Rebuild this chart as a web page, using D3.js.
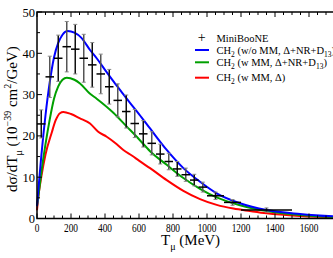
<!DOCTYPE html>
<html>
<head>
<meta charset="utf-8">
<script src="https://cdn.jsdelivr.net/npm/d3@7"></script>
<style>
  body { margin: 0; background: #fff; }
  svg { font-family: "Liberation Serif", "DejaVu Serif", serif; }
</style>
</head>
<body>
<div id="vis-container"></div>
<script>

const width = 333,
    height = 258;

// MiniBooNE data: bin centre, bin half width, value, error
var dataT   = [25, 75, 125, 175, 225, 275, 325, 375, 425, 475, 525, 575, 625, 675, 725, 775, 825, 875, 925, 975, 1050, 1150, 1350];
var dataHW  = [25, 25, 25, 25, 25, 25, 25, 25, 25, 25, 25, 25, 25, 25, 25, 25, 25, 25, 25, 25, 50, 50, 150];
var dataVal = [22.9, 34.3, 38.8, 41.6, 41.0, 38.8, 37.2, 35.0, 31.9, 28.6, 25.9, 23.0, 20.5, 18.2, 15.6, 13.8, 12.0, 10.6, 9.3, 7.6, 5.5, 3.9, 2.06];
var dataErr = [3.4, 5.0, 5.6, 6.1, 6.0, 5.8, 5.4, 4.8, 4.2, 4.0, 4.0, 3.4, 3.2, 2.8, 2.4, 2.0, 1.8, 1.6, 1.4, 1.2, 0.9, 0.7, 0.5];

// model curves
var blueT = [0, 10, 25, 50, 75, 100, 125, 150, 180, 220, 260, 312, 351, 400, 450, 500, 547, 600, 665, 763, 861, 959, 1057, 1194, 1351, 1547, 1750, 1800];
var blueV = [3, 8, 15, 25, 33, 39, 42.5, 44.5, 45.4, 45, 43.8, 40.8, 38.8, 36, 33.2, 30.5, 28, 25.3, 21.8, 16.6, 12.2, 8.9, 6.1, 3.7, 2.06, 1.1, 0.5, 0.4];

var greenT = [0, 10, 25, 50, 75, 100, 125, 150, 175, 220, 253, 312, 351, 449, 527, 600, 665, 763, 861, 959, 1057, 1194, 1351, 1547, 1750, 1800];
var greenV = [3, 6, 11, 18, 24, 29, 32, 33.6, 34.1, 33.6, 32.7, 30.2, 29.0, 25.6, 22.3, 19.2, 16.3, 13.0, 9.8, 7.2, 5.1, 3.2, 1.8, 0.85, 0.35, 0.3];

var redT = [0, 8, 25, 50, 86, 110, 135, 155, 200, 250, 312, 360, 410, 460, 508, 560, 600, 665, 763, 861, 959, 1057, 1155, 1253, 1351, 1550, 1750, 1800];
var redV = [2, 5.3, 10, 15.5, 20.7, 23.8, 25.5, 25.8, 25.3, 24.3, 23, 21, 19.8, 18.3, 16.6, 15.2, 14, 12.2, 9.3, 6.7, 4.7, 3.3, 2.4, 1.8, 1.25, 0.6, 0.25, 0.2];

var legendLabels = ["MiniBooNE", "CH2 (w/o MM, Δ+NR+D13)", "CH2 (w MM, Δ+NR+D13)", "CH2 (w MM, Δ)"];
var xTicks = [0, 200, 400, 600, 800, 1000, 1200, 1400, 1600, 1800];
var yTicks = [0, 10, 20, 30, 40, 50];

var x = d3.scaleLinear().domain([0, 1800]).range([37, 343]);
var y = d3.scaleLinear().domain([0, 50]).range([218.5, 12]);

var svg = d3.select("#vis-container").append("svg")
    .attr("width", width)
    .attr("height", height);

var line = d3.line()
    .x(function(d) { return x(d[0]); })
    .y(function(d) { return y(d[1]); })
    .curve(d3.curveMonotoneX);

// curves
var curves = [[blueT, blueV, "#0000ff"], [greenT, greenV, "#00a000"], [redT, redV, "#ff0000"]];
curves.slice().reverse().forEach(function(c) {
    svg.append("path")
       .datum(d3.zip(c[0], c[1]))
       .attr("d", line)
       .attr("fill", "none")
       .attr("stroke", c[2])
       .attr("stroke-width", 2);
});

// data points
var pts = dataT.map(function(t, i) { return {t: t, hw: dataHW[i], v: dataVal[i], e: dataErr[i]}; });
var g = svg.append("g");
pts.forEach(function(d, i) {
    var col = i % 2 ? "#555" : "#111";
    g.append("line")
     .attr("x1", x(d.t)).attr("x2", x(d.t))
     .attr("y1", y(d.v - d.e)).attr("y2", y(d.v + d.e))
     .attr("stroke", col).attr("stroke-width", 1.5);
    [d.v - d.e, d.v + d.e].forEach(function(v) {
        g.append("line")
         .attr("x1", x(d.t) - 2).attr("x2", x(d.t) + 2)
         .attr("y1", y(v)).attr("y2", y(v))
         .attr("stroke", "#888").attr("stroke-width", 1);
    });
    g.append("line")
     .attr("x1", x(d.t - d.hw)).attr("x2", x(d.t + d.hw))
     .attr("y1", y(d.v)).attr("y2", y(d.v))
     .attr("stroke", "#000").attr("stroke-width", 1.5);
});

// axes frame
var ax = svg.append("g").attr("stroke", "#000");
ax.append("rect")
  .attr("x", x(0)).attr("y", y(50))
  .attr("width", x(1800) - x(0)).attr("height", y(0) - y(50))
  .attr("fill", "none").attr("stroke-width", 1.5);

d3.range(0, 1801, 50).forEach(function(t) {
    var len = t % 200 === 0 ? 5 : 3;
    ax.append("line").attr("x1", x(t)).attr("x2", x(t))
      .attr("y1", y(0)).attr("y2", y(0) - len).attr("stroke-width", 1);
    ax.append("line").attr("x1", x(t)).attr("x2", x(t))
      .attr("y1", y(50)).attr("y2", y(50) + len).attr("stroke-width", 1);
});
d3.range(0, 51, 5).forEach(function(v) {
    var len = v % 10 === 0 ? 5 : 3;
    ax.append("line").attr("x1", x(0)).attr("x2", x(0) + len)
      .attr("y1", y(v)).attr("y2", y(v)).attr("stroke-width", 1);
});

// tick labels
svg.selectAll(".xl").data(xTicks).enter().append("text")
   .attr("transform", function(d) { return "translate(" + x(d) + ",232) scale(0.78,1)"; })
   .attr("text-anchor", "middle")
   .attr("font-size", 12)
   .text(function(d) { return d; });

svg.selectAll(".yl").data(yTicks).enter().append("text")
   .attr("x", 35)
   .attr("y", function(d) { return y(d) + 4.5; })
   .attr("text-anchor", "end")
   .attr("font-size", 12.5)
   .text(function(d) { return d; });

// axis titles
var xt = svg.append("text").attr("x", 161).attr("y", 245).attr("font-size", 15);
xt.append("tspan").text("T");
xt.append("tspan").attr("dy", 5).attr("font-size", 10).text("μ");
xt.append("tspan").attr("dy", -5).text(" (MeV)");

var yt = svg.append("text")
    .attr("transform", "translate(17,192) rotate(-90)")
    .attr("font-size", 15);
yt.append("tspan").text("dσ/dT");
yt.append("tspan").attr("dy", 5).attr("font-size", 10).text("μ");
yt.append("tspan").attr("dy", -5).text(" (10");
yt.append("tspan").attr("dy", -6).attr("font-size", 10).text("−39");
yt.append("tspan").attr("dy", 6).text(" cm");
yt.append("tspan").attr("dy", -6).attr("font-size", 10).text("2");
yt.append("tspan").attr("dy", 6).text("/GeV)");

// legend
var leg = svg.append("g").attr("font-size", 10.5);
leg.append("text").attr("x", 201.7).attr("y", 42).attr("text-anchor", "middle")
   .attr("font-size", 14).text("+");
leg.append("text").attr("x", 216.5).attr("y", 42).text(legendLabels[0]);

var legY = [50, 62.3, 77.7];
[0, 1, 2].forEach(function(i) {
    leg.append("line").attr("x1", 195).attr("x2", 209)
       .attr("y1", legY[i]).attr("y2", legY[i])
       .attr("stroke", curves[i][2]).attr("stroke-width", 2);
    var t = leg.append("text").attr("x", 216.5).attr("y", legY[i] + 3.5);
    t.append("tspan").text("CH");
    t.append("tspan").attr("dy", 3).attr("font-size", 7.5).text("2");
    var rest = legendLabels[i + 1].slice(3);
    if (rest.indexOf("D13") >= 0) {
        t.append("tspan").attr("dy", -3).text(rest.replace("D13)", "D"));
        t.append("tspan").attr("dy", 3).attr("font-size", 7.5).text("13");
        t.append("tspan").attr("dy", -3).text(")");
    } else {
        t.append("tspan").attr("dy", -3).text(rest);
    }
});

</script>
</body>
</html>
